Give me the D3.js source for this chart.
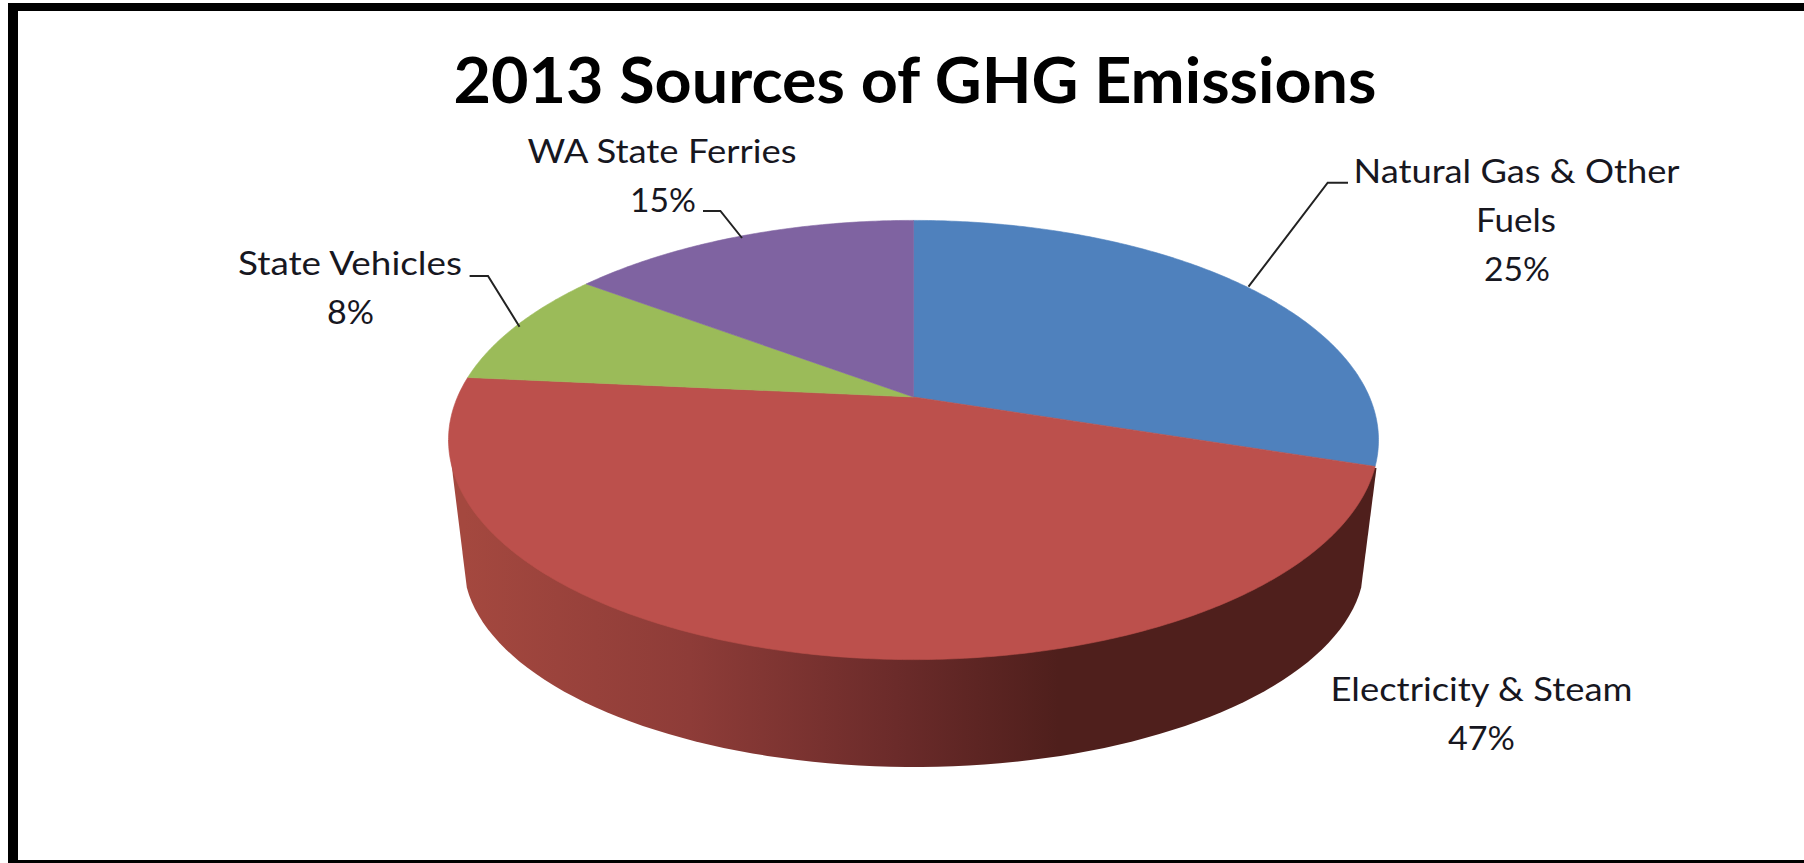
<!DOCTYPE html>
<html lang="en">
<head>
<meta charset="UTF-8">
<title>2013 Sources of GHG Emissions</title>
<script src="https://d3js.org/d3.v7.min.js"></script>
<style>
html, body { margin: 0; padding: 0; background: #fff; overflow: hidden; }
svg { display: block; }
text { font-family: Lato, "Open Sans", sans-serif; fill: #17171f; }
</style>
</head>
<body>
<div id="chart"></div>
<script>
// chart data, clockwise from 12 o'clock
var categories = ["Natural Gas & Other Fuels", "Electricity & Steam", "State Vehicles", "WA State Ferries"];
// slice sizes (blue is drawn at about 30 although its label says 25%)
var sliceShares = [30, 46.5, 8.7, 14.8];
var percentLabels = ["25%", "47%", "8%", "15%"];
var sliceColors = ["#4f81bd", "#bc504c", "#9bbb59", "#7f63a1"];
var titleText = "2013 Sources of GHG Emissions";

var width = 1804, height = 863;

// top face of the pie, the picture has perspective so the apex sits above the ellipse centre
var face = {cx: 913.5, cy: 440, rx: 465, ry: 219.6, apexLift: 43};
var base = {cx: 914, cy: 563, rx: 450.5, ry: 204};

// label lines: text, centre x, baseline y, drawn width
var labelLayout = [
  {lines: [["Natural Gas & Other", 1516.5, 182.7, 326], ["Fuels", 1516, 231.7, 80], [percentLabels[0], 1517, 280.7, 66]],
   leader: [[1348, 182.7], [1327.7, 182.7], [1248.5, 286.7]]},
  {lines: [["Electricity & Steam", 1481.5, 700.7, 302], [percentLabels[1], 1481.5, 750, 67]],
   leader: null},
  {lines: [["State Vehicles", 350, 275, 224], [percentLabels[2], 350.5, 324, 47]],
   leader: [[469.6, 276], [488, 276], [519.5, 326.7]]},
  {lines: [["WA State Ferries", 662, 163, 269], [percentLabels[3], 663, 212, 66]],
   leader: [[703, 211], [720.4, 211], [742, 238]]}
];

var svg = d3.select("#chart").append("svg")
  .attr("width", width)
  .attr("height", height);

// frame, no line on the right hand side
svg.append("rect").attr("x", 8).attr("y", 3).attr("width", 10).attr("height", 860).attr("fill", "#000");
svg.append("rect").attr("x", 8).attr("y", 3).attr("width", 1796).attr("height", 8).attr("fill", "#000");
svg.append("rect").attr("x", 8).attr("y", 860).attr("width", 1796).attr("height", 3).attr("fill", "#000");

// title
svg.append("text")
  .attr("x", 915)
  .attr("y", 103)
  .attr("text-anchor", "middle")
  .attr("font-size", 63)
  .attr("font-weight", 700)
  .attr("textLength", 923)
  .attr("lengthAdjust", "spacingAndGlyphs")
  .style("fill", "#000")
  .text(titleText);

// maps a pie angle (0 = up, clockwise) onto the tilted face
var k = face.apexLift / face.ry;
function project(angle) {
  var u = Math.sin(angle), v = Math.cos(angle);
  var d = 1 + k * v;
  return [
    face.cx + face.rx * Math.sqrt(1 - k * k) * u / d,
    face.cy - face.ry * (v + k) / d
  ];
}
var apex = [face.cx, face.cy - face.apexLift];

var line = d3.line();
var color = d3.scaleOrdinal().domain(categories).range(sliceColors);

var pie = d3.pie().sort(null).value(function(d, i) { return sliceShares[i]; });
var arcs = pie(categories);

// side wall, shaded left to right
var defs = svg.append("defs");
var grad = defs.append("linearGradient")
  .attr("id", "wall")
  .attr("gradientUnits", "userSpaceOnUse")
  .attr("x1", 464).attr("x2", 1365).attr("y1", 0).attr("y2", 0);
grad.append("stop").attr("offset", "0").attr("stop-color", "#a4483f");
grad.append("stop").attr("offset", "0.25").attr("stop-color", "#8e3c38");
grad.append("stop").attr("offset", "0.48").attr("stop-color", "#6b2b2a");
grad.append("stop").attr("offset", "0.66").attr("stop-color", "#4f1f1c");
grad.append("stop").attr("offset", "1").attr("stop-color", "#4f1f1c");

// wall outline, skips the ends of the base ellipse so the sides run in without a kink
var wallPoints = [[face.cx - face.rx, face.cy]];
d3.range(7, 174, 2).forEach(function(deg) {
  var a = (180 - deg) * Math.PI / 180;
  wallPoints.push([base.cx + base.rx * Math.cos(a), base.cy + base.ry * Math.sin(a)]);
});
wallPoints.push([1376.5, 468]);
wallPoints.push([face.cx, face.cy]);

svg.append("path")
  .attr("d", line(wallPoints) + "Z")
  .attr("fill", "url(#wall)");

// slices of the top face
svg.selectAll("path.slice")
  .data(arcs)
  .enter()
  .append("path")
  .attr("class", "slice")
  .attr("fill", function(d) { return color(d.data); })
  .attr("stroke", function(d) { return color(d.data); })
  .attr("stroke-width", 0.6)
  .attr("d", function(d) {
    var steps = Math.ceil((d.endAngle - d.startAngle) / 0.01);
    var pts = [apex];
    d3.range(steps + 1).forEach(function(i) {
      pts.push(project(d.startAngle + (d.endAngle - d.startAngle) * i / steps));
    });
    return line(pts) + "Z";
  });

// leader lines and labels
labelLayout.forEach(function(lab) {
  if (lab.leader) {
    svg.append("path")
      .attr("d", line(lab.leader))
      .attr("fill", "none")
      .attr("stroke", "#222")
      .attr("stroke-width", 2);
  }
  lab.lines.forEach(function(l) {
    svg.append("text")
      .attr("x", l[1])
      .attr("y", l[2])
      .attr("text-anchor", "middle")
      .attr("font-size", 33.5)
      .attr("textLength", l[3])
      .attr("lengthAdjust", "spacingAndGlyphs")
      .text(l[0]);
  });
});
</script>
</body>
</html>
